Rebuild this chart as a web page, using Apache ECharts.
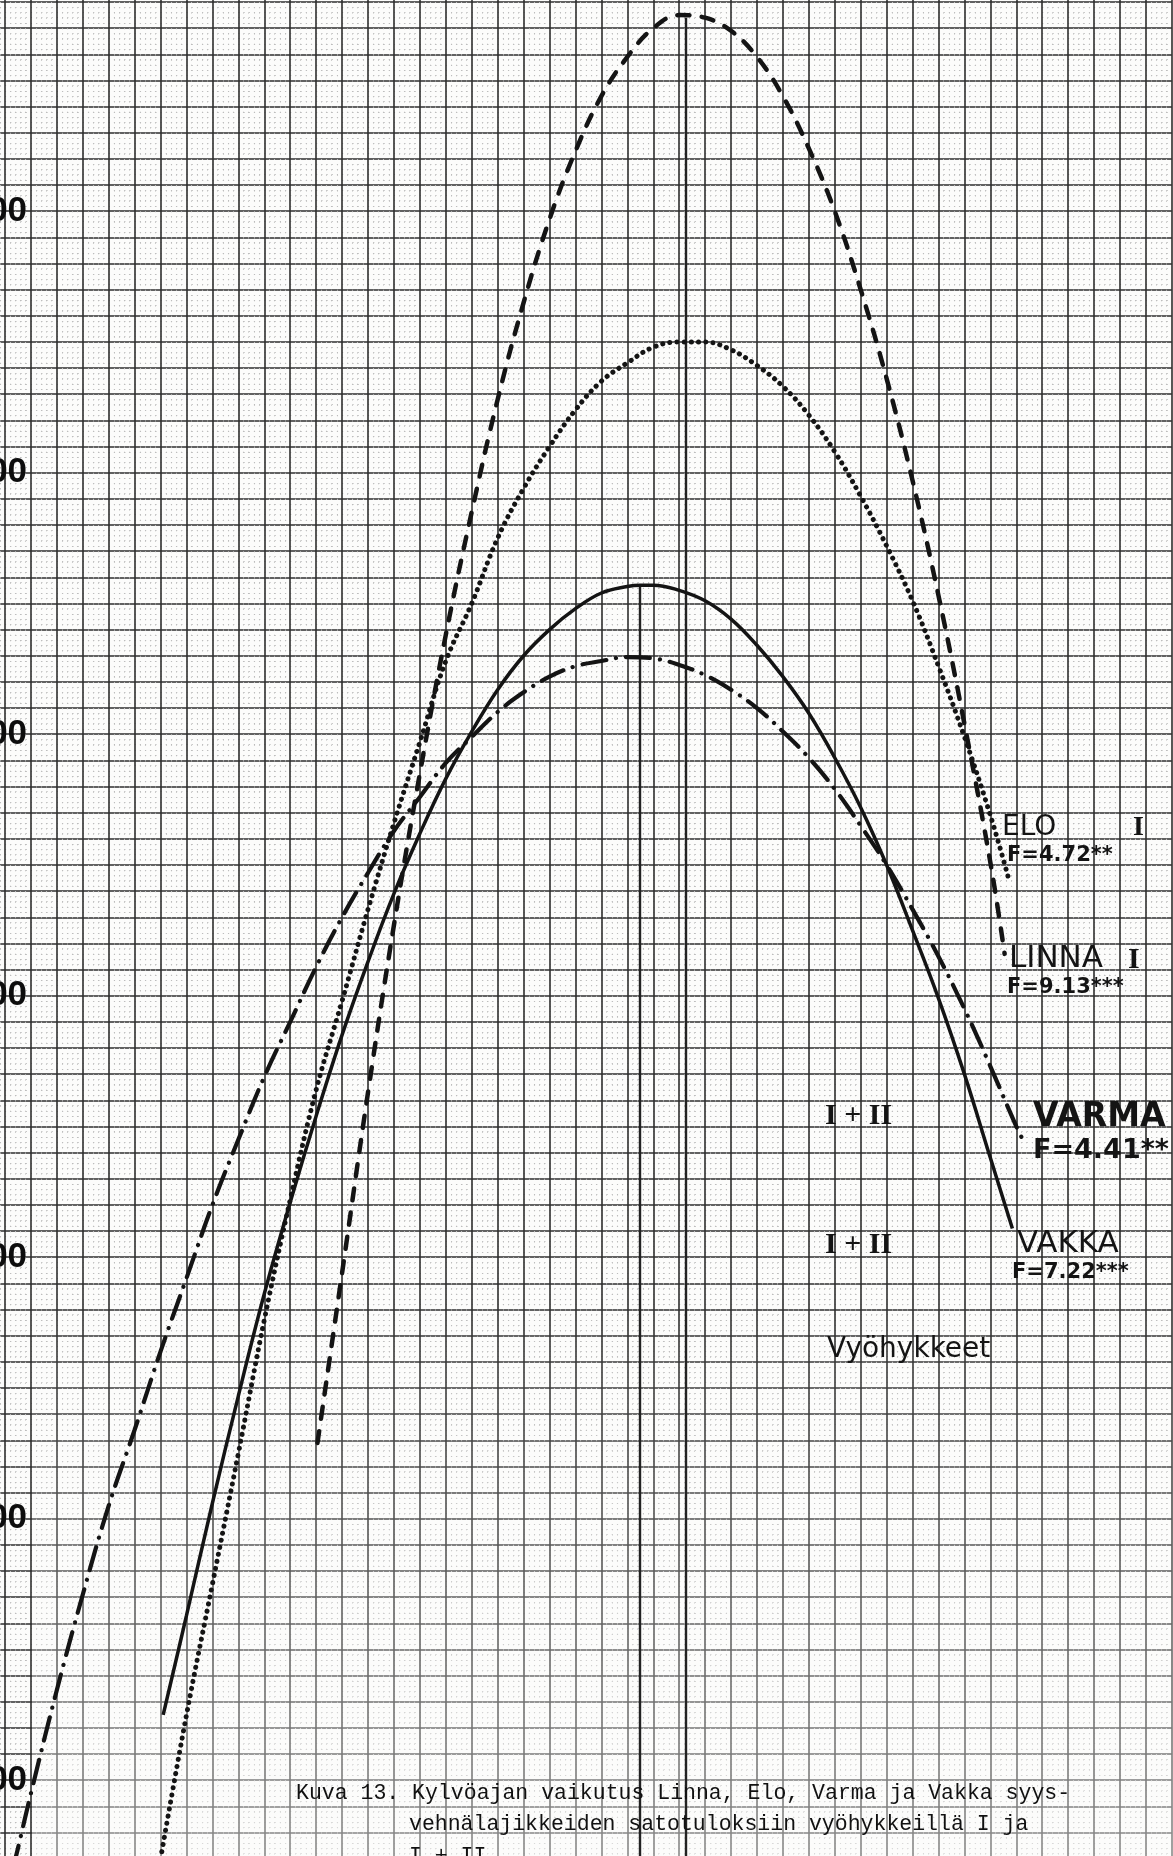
<!DOCTYPE html>
<html>
<head>
<meta charset="utf-8">
<title>Kuva 13</title>
<script src="https://cdn.jsdelivr.net/npm/echarts@6/dist/echarts.min.js"></script>
<style>
  html, body { margin: 0; padding: 0; background: #fcfcfb; }
  #chart { width: 1173px; height: 1856px; }
</style>
</head>
<body>
<div id="chart"></div>
<script>
// Kylvöaika (sowing day index) and sato (kg/ha), one pair per point.
const linna = [
  [12.05, 3029], [13, 3094], [14, 3163], [15, 3227], [16, 3285], [17, 3338], [18, 3385],
  [19, 3428], [20, 3465], [21, 3497], [22, 3523], [23, 3544], [24, 3559], [25, 3570],
  [26, 3575], [27, 3574], [28, 3569], [29, 3559], [30, 3544], [31, 3524], [32, 3500],
  [33, 3470], [34, 3436], [35, 3397], [36, 3353], [37, 3304], [38, 3251], [38.55, 3216]
];
const elo = [
  [6, 2870], [7, 2925], [8, 2975], [9, 3025], [10, 3076], [11, 3122], [12, 3164],
  [13, 3198], [14, 3233], [15, 3266], [16, 3297], [17, 3328], [18, 3350], [19, 3375],
  [20, 3394], [21, 3410], [22, 3424], [23, 3435], [24, 3442], [25, 3448], [26, 3450],
  [27, 3450], [28, 3447], [29, 3441], [30, 3433], [31, 3422], [32, 3408], [33, 3391],
  [34, 3372], [35, 3351], [36, 3326], [37, 3299], [38, 3269], [38.7, 3245]
];
const varma = [
  [0.3, 2866], [0.5, 2874], [1, 2895], [2, 2934.5], [3, 2971], [4, 3005], [5, 3034],
  [6, 3064], [7, 3092], [8, 3120], [9, 3145], [10, 3169], [11, 3190], [12, 3211],
  [13, 3230], [14, 3247], [15, 3263], [16, 3276], [17, 3289], [18, 3299], [19, 3308.5],
  [20, 3316], [21, 3322], [22, 3326], [23, 3328], [24, 3329.5], [25, 3329], [26, 3326.5],
  [27, 3322.6], [28, 3317], [29, 3310], [30, 3301], [31, 3291], [32, 3279], [33, 3265],
  [34, 3250], [35, 3233], [36, 3215], [37, 3195], [38, 3173], [39, 3150], [39.25, 3145]
];
const vakka = [
  [6.1, 2925], [7, 2963], [8, 3006], [9, 3047], [10, 3086], [11, 3121], [12, 3154],
  [13, 3185], [14, 3213], [15, 3239], [16, 3262], [17, 3283], [18, 3301], [19, 3317],
  [20, 3330], [21, 3340], [22, 3348], [23, 3354], [24, 3356.5], [24.5, 3357], [25, 3357],
  [26, 3355], [27, 3351], [28, 3344], [29, 3334], [30, 3322], [31, 3308], [32, 3291],
  [33, 3272], [34, 3250], [35, 3225], [36, 3199], [37, 3170], [38, 3138], [38.85, 3111]
];

// Optimum sowing days marked with vertical drop lines.
const vakkaOptimum = [24.49, 3357];
const linnaOptimum = [26.26, 3574];

// Graph-paper extent: one major square per day and per 10 kg/ha.
const dayMin = -1, dayMax = 45;
const yieldMin = 2870, yieldMax = 3590, yieldStep = 10, labelStep = 100;

// Curve labels
const labels = {
  elo: ['ELO', 'I', 'F=4.72**'],
  linna: ['LINNA', 'I', 'F=9.13***'],
  varma: ['VARMA', 'F=4.41**'],
  vakka: ['VAKKA', 'F=7.22***'],
  zone: 'I + II',
  zones: 'Vyöhykkeet'
};
const caption = [
  'Kuva 13. Kylvöajan vaikutus Linna, Elo, Varma ja Vakka syys-',
  'vehnälajikkeiden satotuloksiin vyöhykkeillä I ja',
  'I + II.'
];

const INK = '#141414';
const PAPER = '#fcfcfb';
const cellX = 25.93, cellY = 26.15;

const chart = echarts.init(document.getElementById('chart'), null, { renderer: 'canvas' });

function txt(text, x, y, size, opts) {
  opts = opts || {};
  return {
    type: 'text', silent: true, z: 10,
    style: {
      text: text, x: x, y: y,
      fontSize: size,
      fontFamily: opts.family || "'DejaVu Sans', sans-serif",
      fontWeight: opts.weight || 'normal',
      fill: opts.color || INK,
      align: 'left', verticalAlign: 'middle',
      textAlign: 'left', textVerticalAlign: 'middle'
    }
  };
}

const serif = "'Liberation Serif', 'DejaVu Serif', serif";
const mono = "'Liberation Mono', 'DejaVu Sans Mono', monospace";

const majorLine = { show: true, lineStyle: { color: '#2e2e2e', width: 1.6 } };
const minorDots = (step) => ({ show: true, lineStyle: { color: '#bdbdbd', width: 1.1, type: [1.1, step / 5 - 1.1] } });

const option = {
  backgroundColor: PAPER,
  animation: false,
  grid: {
    left: 5 - cellX,
    top: 2 - cellY,
    width: (dayMax - dayMin) * cellX,
    height: ((yieldMax - yieldMin) / yieldStep) * cellY,
    containLabel: false,
    outerBoundsMode: 'none'
  },
  xAxis: {
    type: 'value', min: dayMin, max: dayMax, interval: 1,
    axisLine: { show: false }, axisTick: { show: false }, axisLabel: { show: false },
    splitLine: majorLine,
    minorTick: { show: false, splitNumber: 5 },
    minorSplitLine: minorDots(cellY)
  },
  yAxis: [
    {
      // ruled paper
      type: 'value', min: yieldMin, max: yieldMax, interval: yieldStep, z: 0,
      axisLine: { show: false }, axisTick: { show: false }, axisLabel: { show: false },
      splitLine: majorLine,
      minorTick: { show: false, splitNumber: 5 },
      minorSplitLine: minorDots(cellX)
    },
    {
      // yield labels, written on the sheet every 100 kg/ha
      type: 'value', min: yieldMin, max: yieldMax, interval: yieldStep, z: 4,
      position: 'left',
      axisLine: { show: false }, axisTick: { show: false }, splitLine: { show: false },
      axisLabel: {
        show: true, inside: true, align: 'right', margin: 48,
        formatter: v => (v % labelStep === 0 ? String(v) : ''),
        fontSize: 35, fontWeight: 'bold',
        fontFamily: "'Liberation Sans Narrow', 'Liberation Sans', sans-serif",
        color: '#0d0d0d'
      }
    }
  ],
  series: [
    {
      name: 'Linna', type: 'line', data: linna, smooth: 0.4, showSymbol: false, z: 5,
      lineStyle: { color: INK, width: 4.5, type: [12, 12.5], cap: 'round' },
      markLine: {
        silent: true, symbol: 'none', label: { show: false },
        lineStyle: { color: '#222', width: 2.4, type: 'solid' },
        data: [[{ coord: linnaOptimum }, { coord: [linnaOptimum[0], yieldMin] }]]
      }
    },
    {
      name: 'Elo', type: 'line', data: elo, smooth: 0.4, showSymbol: false, z: 5,
      lineStyle: { color: INK, width: 5, type: [0.1, 7.1], cap: 'round' }
    },
    {
      name: 'Varma', type: 'line', data: varma, smooth: 0.4, showSymbol: false, z: 5,
      lineStyle: { color: INK, width: 4.2, type: [24, 10, 0.1, 10], cap: 'round' }
    },
    {
      name: 'Vakka', type: 'line', data: vakka, smooth: 0.4, showSymbol: false, z: 5,
      lineStyle: { color: INK, width: 3.5, type: 'solid' },
      markLine: {
        silent: true, symbol: 'none', label: { show: false },
        lineStyle: { color: '#222', width: 2.4, type: 'solid' },
        data: [[{ coord: vakkaOptimum }, { coord: [vakkaOptimum[0], yieldMin] }]]
      }
    }
  ],
  graphic: [
    // the lower part of the sheet is printed fainter (left margin with the labels kept clear)
    {
      type: 'rect', silent: true, z: 1,
      shape: { x: 32, y: 1300, width: 1141, height: 556 },
      style: {
        fill: new echarts.graphic.LinearGradient(0, 0, 0, 1, [
          { offset: 0, color: 'rgba(252,252,251,0)' },
          { offset: 1, color: 'rgba(252,252,251,0.45)' }
        ])
      }
    },
    txt(labels.elo[0], 1002, 828, 28),
    txt(labels.elo[1], 1133, 828, 28, { family: serif, weight: 'bold' }),
    txt(labels.elo[2], 1007, 856, 21, { weight: 'bold' }),
    txt(labels.linna[0], 1009, 959, 31),
    txt(labels.linna[1], 1128, 960, 30, { family: serif, weight: 'bold' }),
    txt(labels.linna[2], 1007, 988, 21, { weight: 'bold' }),
    txt(labels.zone, 825, 1116, 30, { family: serif, weight: 'bold' }),
    txt(labels.varma[0], 1033, 1117, 33, { weight: 'bold' }),
    txt(labels.varma[1], 1033, 1151, 27, { weight: 'bold' }),
    txt(labels.zone, 825, 1245, 30, { family: serif, weight: 'bold' }),
    txt(labels.vakka[0], 1017, 1244, 31),
    txt(labels.vakka[1], 1012, 1273, 21, { weight: 'bold' }),
    txt(labels.zones, 827, 1350, 28),
    txt(caption[0], 296, 1793, 21.5, { family: mono, color: '#111' }),
    txt(caption[1], 409, 1824, 21.5, { family: mono, color: '#111' }),
    txt(caption[2], 409, 1856, 21.5, { family: mono, color: '#111' })
  ]
};

chart.setOption(option);
</script>
</body>
</html>
